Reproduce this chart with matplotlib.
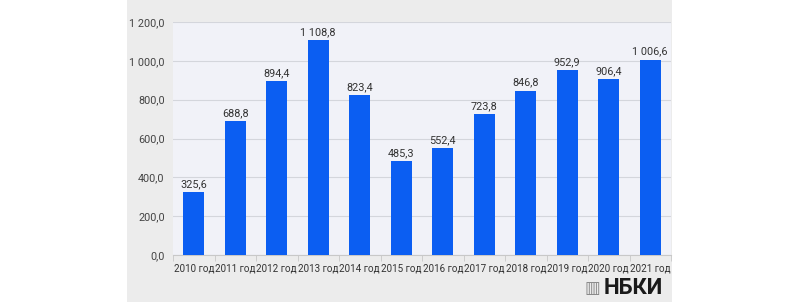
import matplotlib.pyplot as plt
from matplotlib.patches import Rectangle
import numpy as np

plt.rcParams['font.family'] = ['Roboto', 'DejaVu Sans']

years = ['2010 год', '2011 год', '2012 год', '2013 год', '2014 год', '2015 год',
         '2016 год', '2017 год', '2018 год', '2019 год', '2020 год', '2021 год']
values = [325.6, 688.8, 894.4, 1108.8, 823.4, 485.3, 552.4, 723.8, 846.8, 952.9, 906.4, 1006.6]
yticks = [0, 200, 400, 600, 800, 1000, 1200]


def fmt(v):
    s = f'{v:,.1f}'
    return s.replace(',', ' ').replace('.', ',')


fig = plt.figure(figsize=(8, 3.02), dpi=100, facecolor='white')
# grey panel behind the chart
fig.patches.append(Rectangle((127 / 800, 0), 545 / 800, 1, transform=fig.transFigure,
                             facecolor='#ececec', edgecolor='none', zorder=-10))

ax = fig.add_axes([173 / 800, 47 / 302, 498 / 800, 233 / 302])
ax.set_facecolor('#f1f2f8')
x = np.arange(len(years))
ax.bar(x, values, width=0.5, color='#0b5ef2', zorder=3)
for xi, v in zip(x, values):
    ax.text(xi, v + 15, fmt(v), ha='center', va='bottom', fontsize=7.8, color='#333333')

ax.set_xlim(-0.5, len(years) - 0.5)
ax.set_ylim(0, 1200)
ax.set_yticks(yticks)
ax.set_yticklabels([fmt(t) for t in yticks])
ax.set_xticks(x)
ax.set_xticklabels(years)
ax.set_xticks(np.arange(-0.5, len(years)), minor=True)
ax.tick_params(axis='x', which='major', length=0, labelsize=7.1, colors='#333333', pad=6)
ax.tick_params(axis='x', which='minor', length=4, color='#c8c8c8')
ax.tick_params(axis='y', length=0, labelsize=7.8, colors='#444444', pad=6)
ax.grid(axis='y', color='#d4d6dc', linewidth=0.8, zorder=0)
for s in ['top', 'right', 'left']:
    ax.spines[s].set_visible(False)
ax.spines['bottom'].set_color('#c8c8c8')

# logo
fig.text(604 / 800, 1 - 288 / 302, 'НБКИ', fontsize=16, fontweight='bold',
         color='#1a1a1a', ha='left', va='center')
fig.text(592 / 800, 1 - 288 / 302, '▥', fontsize=12, color='#888888',
         ha='center', va='center', family='DejaVu Sans')

fig.savefig('out.png', dpi=100)
